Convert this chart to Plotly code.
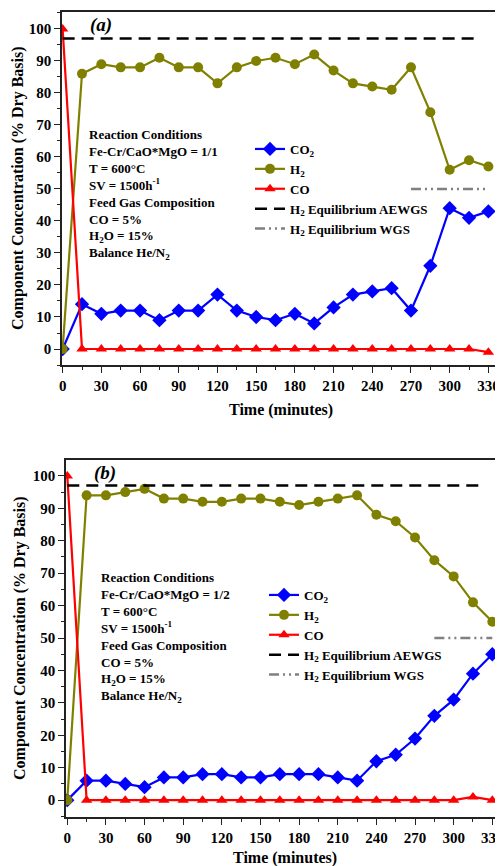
import plotly.graph_objects as go

# The page body adds an 8px margin, so the figure is sized and positioned to fit the window.
OFF = 8
W, H = 503 - OFF, 866 - OFF

# ---------------- data ----------------
time_min = [0, 15, 30, 45, 60, 75, 90, 105, 120, 135, 150, 165, 180, 195, 210,
            225, 240, 255, 270, 285, 300, 315, 330]

co2_a = [0, 14, 11, 12, 12, 9, 12, 12, 17, 12, 10, 9, 11, 8, 13, 17, 18, 19, 12, 26, 44, 41, 43]
h2_a = [0, 86, 89, 88, 88, 91, 88, 88, 83, 88, 90, 91, 89, 92, 87, 83, 82, 81, 88, 74, 56, 59, 57]
co_a = [100, 0, 0, 0, 0, 0, 0, 0, 0, 0, 0, 0, 0, 0, 0, 0, 0, 0, 0, 0, 0, 0, -1]

co2_b = [0, 6, 6, 5, 4, 7, 7, 8, 8, 7, 7, 8, 8, 8, 7, 6, 12, 14, 19, 26, 31, 39, 45]
h2_b = [0, 94, 94, 95, 96, 93, 93, 92, 92, 93, 93, 92, 91, 92, 93, 94, 88, 86, 81, 74, 69, 61, 55]
co_b = [100, 0, 0, 0, 0, 0, 0, 0, 0, 0, 0, 0, 0, 0, 0, 0, 0, 0, 0, 0, 0, 1, 0]

aewgs_x = [0, 324]
aewgs_y = [97, 97]
wgs_x_a = [270, 328]
wgs_x_b = [285, 330]
wgs_y = [50, 50]

x_ticks = [0, 30, 60, 90, 120, 150, 180, 210, 240, 270, 300, 330]
y_ticks = [0, 10, 20, 30, 40, 50, 60, 70, 80, 90, 100]

cond_a = ["Reaction Conditions", "Fe-Cr/CaO*MgO = 1/1", "T = 600°C", "SV = 1500h<sup>-1</sup>",
          "Feed Gas Composition", "CO = 5%", "H<sub>2</sub>O = 15%", "Balance He/N<sub>2</sub>"]
cond_b = ["Reaction Conditions", "Fe-Cr/CaO*MgO = 1/2", "T = 600°C", "SV = 1500h<sup>-1</sup>",
          "Feed Gas Composition", "CO = 5%", "H<sub>2</sub>O = 15%", "Balance He/N<sub>2</sub>"]

FONT = "Liberation Serif"
BLUE, OLIVE, RED, GRAY = "#0000FF", "#808000", "#FF0000", "#808080"


def px_x(p):
    return (p - OFF) / W


def px_y(p):
    return 1 - (p - OFF) / H


fig = go.Figure()


def add_panel(xa, ya, leg, co2, h2, co, wgs_x):
    fig.add_trace(go.Scatter(x=time_min, y=co2, mode="lines+markers", name="CO<sub>2</sub>",
                             line=dict(color=BLUE, width=2.2),
                             marker=dict(symbol="diamond", size=11, color=BLUE),
                             xaxis=xa, yaxis=ya, legend=leg))
    fig.add_trace(go.Scatter(x=time_min, y=h2, mode="lines+markers", name="H<sub>2</sub>",
                             line=dict(color=OLIVE, width=2.2),
                             marker=dict(symbol="circle", size=10, color=OLIVE),
                             xaxis=xa, yaxis=ya, legend=leg))
    fig.add_trace(go.Scatter(x=time_min, y=co, mode="lines+markers", name="CO",
                             line=dict(color=RED, width=2.2),
                             marker=dict(symbol="triangle-up", size=10, color=RED),
                             xaxis=xa, yaxis=ya, legend=leg))
    fig.add_trace(go.Scatter(x=aewgs_x, y=aewgs_y, mode="lines",
                             name="H<sub>2</sub> Equilibrium AEWGS",
                             line=dict(color="black", width=2.5, dash="12px,7px"),
                             xaxis=xa, yaxis=ya, legend=leg))
    fig.add_trace(go.Scatter(x=wgs_x, y=wgs_y, mode="lines",
                             name="H<sub>2</sub> Equilibrium WGS",
                             line=dict(color=GRAY, width=2.5, dash="10px,4px,2px,4px,2px,4px"),
                             xaxis=xa, yaxis=ya, legend=leg))


add_panel("x", "y", "legend", co2_a, h2_a, co_a, wgs_x_a)
add_panel("x2", "y2", "legend2", co2_b, h2_b, co_b, wgs_x_b)

tickfont = dict(family=FONT, size=15, color="black", weight="bold")


def xaxis(domain, rng, anchor, mirror):
    return dict(domain=domain, range=rng, anchor=anchor, tickvals=x_ticks,
                ticks="outside", ticklen=6, tickwidth=1.2, tickcolor="#222",
                minor=dict(dtick=15, tick0=0, ticks="outside", ticklen=3, tickcolor="#222"),
                showline=True, linecolor="#222", linewidth=1.5, mirror=mirror,
                showgrid=False, zeroline=False, tickfont=tickfont, automargin=False,
                ticklabeloverflow="allow")


def yaxis(domain, rng, anchor, mirror):
    return dict(domain=domain, range=rng, anchor=anchor, tickvals=y_ticks,
                ticks="outside", ticklen=6, tickwidth=1.2, tickcolor="#222",
                minor=dict(dtick=5, tick0=0, ticks="outside", ticklen=3, tickcolor="#222"),
                showline=True, linecolor="#222", linewidth=1.5, mirror=mirror,
                showgrid=False, zeroline=False, tickfont=tickfont, automargin=False,
                ticklabeloverflow="allow")


legfont = dict(family=FONT, size=13, color="black", weight="bold")


def legend(xp, yp):
    return dict(x=px_x(xp), y=px_y(yp), xanchor="left", yanchor="top",
                bgcolor="rgba(0,0,0,0)", font=legfont, itemwidth=30,
                tracegroupgap=0)


ann = []
afont = dict(family=FONT, size=13, color="black", weight="bold")
ann.append(dict(text="<br>".join(cond_a), x=px_x(87), y=px_y(125), xref="paper", yref="paper",
                xanchor="left", yanchor="top", align="left", showarrow=False, font=afont))
ann.append(dict(text="<br>".join(cond_b), x=px_x(99), y=px_y(568), xref="paper", yref="paper",
                xanchor="left", yanchor="top", align="left", showarrow=False, font=afont))
pfont = dict(family=FONT, size=19, color="black", weight="bold", style="italic")
ann.append(dict(text="(a)", x=px_x(88), y=px_y(25), xref="paper", yref="paper",
                xanchor="left", yanchor="middle", showarrow=False, font=pfont))
ann.append(dict(text="(b)", x=px_x(92), y=px_y(473), xref="paper", yref="paper",
                xanchor="left", yanchor="middle", showarrow=False, font=pfont))
tfont = dict(family=FONT, size=16, color="black", weight="bold")
ytitle = "Component Concentration (% Dry Basis)"
ann.append(dict(text=ytitle, x=px_x(18), y=px_y(188), xref="paper", yref="paper",
                textangle=-90, xanchor="center", yanchor="middle", showarrow=False, font=tfont))
ann.append(dict(text=ytitle, x=px_x(20), y=px_y(638), xref="paper", yref="paper",
                textangle=-90, xanchor="center", yanchor="middle", showarrow=False, font=tfont))
ann.append(dict(text="Time (minutes)", x=px_x(281), y=px_y(410), xref="paper", yref="paper",
                xanchor="center", yanchor="middle", showarrow=False, font=tfont))
ann.append(dict(text="Time (minutes)", x=px_x(285), y=px_y(858), xref="paper", yref="paper",
                xanchor="center", yanchor="middle", showarrow=False, font=tfont))

fig.update_layout(
    width=W, height=H,
    margin=dict(l=0, r=0, t=0, b=0),
    paper_bgcolor="white", plot_bgcolor="white",
    showlegend=True,
    xaxis=xaxis([px_x(62), px_x(500)], [-0.5, 339], "y", True),
    yaxis=yaxis([px_y(365), px_y(12)], [-5, 105.3], "x", True),
    xaxis2=xaxis([px_x(66), 1.0], [-1, 338.3], "y2", True),
    yaxis2=yaxis([px_y(817), px_y(460)], [-5.2, 104.9], "x2", False),
    legend=legend(250, 134),
    legend2=legend(264, 580),
    annotations=ann,
    font=dict(family=FONT, color="black"),
)

fig.write_html("out.html")
